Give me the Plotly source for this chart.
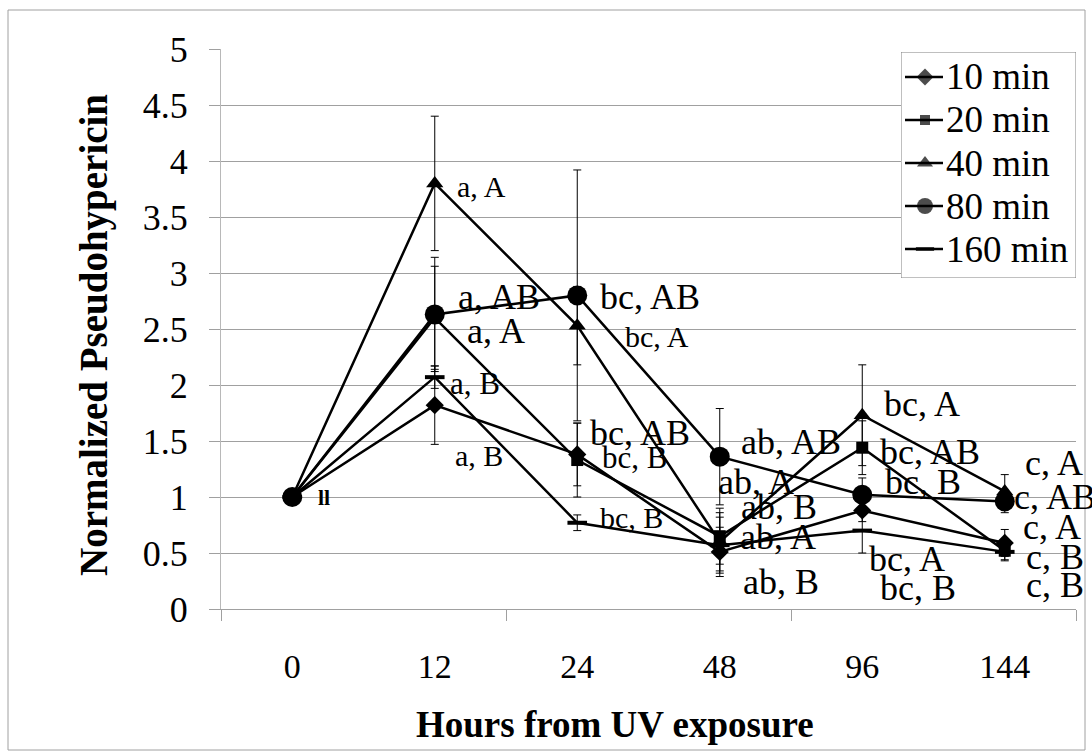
import plotly.graph_objects as go

# Sampling times after UV exposure (hours)
hours = ["0", "12", "24", "48", "96", "144"]

# Normalized pseudohypericin per exposure duration, with standard error
min10 = [1.0, 1.82, 1.38, 0.51, 0.88, 0.59]
min10_err = [0, 0.35, 0.28, 0.22, 0.10, 0.12]
min20 = [1.0, 2.60, 1.33, 0.65, 1.44, 0.52]
min20_err = [0, 0.46, 0.33, 0.25, 0.24, 0.09]
min40 = [1.0, 3.80, 2.53, 0.60, 1.73, 1.05]
min40_err = [0, 0.60, 0.35, 0.26, 0.45, 0.15]
min80 = [1.0, 2.63, 2.80, 1.36, 1.02, 0.96]
min80_err = [0, 0.51, 1.12, 0.43, 0.15, 0.10]
min160 = [1.0, 2.07, 0.77, 0.57, 0.70, 0.51]
min160_err = [0, 0.10, 0.07, 0.25, 0.20, 0.07]

series_names = ["10 min", "20 min", "40 min", "80 min", "160 min"]
series_vals = [min10, min20, min40, min80, min160]
series_errs = [min10_err, min20_err, min40_err, min80_err, min160_err]
symbols = ["diamond", "square", "triangle-up", "circle", "line-ew"]
sizes = [14, 12, 15, 20, 14]

# Significance letters: (hour index, text offset x, value y, text, size)
letters = [
    (1, 0.144, 3.77, "a, A", 30),
    (1, 0.151, 2.79, "a, AB", 36),
    (1, 0.214, 2.48, "a, A", 36),
    (1, 0.095, 2.01, "a, B", 31),
    (1, 0.130, 1.37, "a, B", 30),
    (2, 0.147, 2.79, "bc, AB", 36),
    (2, 0.322, 2.43, "bc, A", 30),
    (2, 0.077, 1.57, "bc, AB", 36),
    (2, 0.161, 1.35, "bc, B", 31),
    (2, 0.147, 0.82, "bc, B", 30),
    (3, 0.133, 1.49, "ab, AB", 36),
    (3, -0.028, 1.13, "ab, A", 36),
    (3, 0.133, 0.91, "ab, B", 36),
    (3, 0.126, 0.64, "ab, A", 36),
    (3, 0.147, 0.24, "ab, B", 36),
    (4, 0.140, 1.83, "bc, A", 36),
    (4, 0.112, 1.40, "bc, AB", 36),
    (4, 0.147, 1.13, "bc, B", 36),
    (4, 0.035, 0.45, "bc, A", 36),
    (4, 0.112, 0.19, "bc, B", 36),
    (5, 0.126, 1.30, "c, A", 36),
    (5, 0.049, 1.00, "c, AB", 36),
    (5, 0.112, 0.73, "c, A", 36),
    (5, 0.133, 0.46, "c, B", 36),
    (5, 0.133, 0.21, "c, B", 36),
]

FONT = "Liberation Serif"
xs = list(range(len(hours)))

# plot area in pixels
W, H = 1092, 756
L, R, T, B = 221, 1076, 49, 609
PW, PH = R - L, B - T


def px_x(p):
    return (p - L) / PW


def px_y(p):
    return (B - p) / PH


fig = go.Figure()
for name, vals, errs, sym, sz in zip(series_names, series_vals, series_errs, symbols, sizes):
    fig.add_trace(go.Scatter(
        x=xs, y=vals, name=name, mode="lines+markers",
        line=dict(color="black", width=2.5),
        marker=dict(symbol=sym, size=sz, color="black",
                    line=dict(color="black", width=4 if sym == "line-ew" else 0)),
        error_y=dict(type="data", array=errs, visible=True,
                     color="black", thickness=1, width=4),
        showlegend=False,
    ))

# Legend box drawn on its own pixel-scaled overlay axes
LEG_X0, LEG_X1, LEG_Y0, LEG_Y1 = 901, 1076, 52, 278
leg_rows = [25, 68, 111, 154, 197]
leg_sizes = [13, 10, 14, 16, 13]
for name, sym, sz, ry in zip(series_names, symbols, leg_sizes, leg_rows):
    fig.add_trace(go.Scatter(
        x=[4, 24, 42], y=[ry, ry, ry], mode="lines+markers",
        line=dict(color="black", width=2.5),
        marker=dict(symbol=sym, size=[0, sz, 0], color="black",
                    line=dict(color="black", width=4 if sym == "line-ew" else 0)),
        xaxis="x2", yaxis="y2", showlegend=False, hoverinfo="skip",
    ))

annotations = []
for idx, dx, yv, txt, fs in letters:
    annotations.append(dict(
        x=idx + dx, y=yv, xref="x", yref="y", text=txt, showarrow=False,
        xanchor="left", yanchor="middle",
        font=dict(family=FONT, size=fs, color="black"),
    ))
for name, ry in zip(series_names, leg_rows):
    annotations.append(dict(
        x=43, y=ry, xref="x2", yref="y2", text=name, showarrow=False,
        xanchor="left", yanchor="middle",
        font=dict(family=FONT, size=37, color="black"),
    ))

# small double-stroke mark beside the 0 h point
annotations.append(dict(x=0.17, y=1.0, xref="x", yref="y", text="ll", showarrow=False,
                        xanchor="left", yanchor="middle",
                        font=dict(family=FONT, size=22, color="black", weight="bold")))

# axis titles
annotations.append(dict(x=px_x(615), y=px_y(724), xref="paper", yref="paper",
                        text="<b>Hours from UV exposure</b>", showarrow=False,
                        xanchor="center", yanchor="middle",
                        font=dict(family=FONT, size=37, color="black")))
annotations.append(dict(x=px_x(94), y=px_y(335), xref="paper", yref="paper",
                        text="<b>Normalized Pseudohypericin</b>", showarrow=False, textangle=-90,
                        xanchor="center", yanchor="middle",
                        font=dict(family=FONT, size=39, color="black")))

fig.update_layout(
    width=W, height=H,
    margin=dict(l=L, r=W - R, t=T, b=H - B),
    paper_bgcolor="white", plot_bgcolor="white",
    font=dict(family=FONT, color="black"),
    annotations=annotations,
    showlegend=False,
    xaxis=dict(
        range=[-0.5, 5.5], tickmode="array", tickvals=xs, ticktext=hours,
        ticks="", showgrid=False, zeroline=False,
        showline=True, linecolor="#a0a0a0", linewidth=1,
        tickfont=dict(family=FONT, size=34, color="black"),
        ticklabelstandoff=27,
        minor=dict(tickmode="array", tickvals=[-0.5, 1.5, 3.5, 5.5], ticks="outside",
                   ticklen=11, tickcolor="#a0a0a0", tickwidth=1, showgrid=False),
    ),
    yaxis=dict(
        range=[0, 5], tickmode="linear", tick0=0, dtick=0.5,
        ticks="outside", ticklen=11, tickcolor="#a0a0a0", tickwidth=1,
        showgrid=True, gridcolor="#a0a0a0", gridwidth=1, zeroline=False,
        showline=True, linecolor="#b8b8b8", linewidth=1,
        tickfont=dict(family=FONT, size=36, color="black"),
        ticklabelstandoff=14,
    ),
    xaxis2=dict(domain=[px_x(LEG_X0), px_x(LEG_X1)], range=[0, LEG_X1 - LEG_X0],
                anchor="y2", visible=False, fixedrange=True),
    yaxis2=dict(domain=[px_y(LEG_Y1), px_y(LEG_Y0)], range=[LEG_Y1 - LEG_Y0, 0],
                anchor="x2", visible=False, fixedrange=True),
    shapes=[
        dict(type="rect", xref="paper", yref="paper",
             x0=px_x(8), x1=px_x(1085), y0=px_y(750), y1=px_y(10),
             line=dict(color="#a0a0a0", width=1), fillcolor="rgba(0,0,0,0)", layer="below"),
        dict(type="rect", xref="x2", yref="y2",
             x0=0, x1=LEG_X1 - LEG_X0, y0=0, y1=LEG_Y1 - LEG_Y0,
             line=dict(color="#808080", width=1), fillcolor="white", layer="below"),
    ],
)

fig.write_html("out.html")
